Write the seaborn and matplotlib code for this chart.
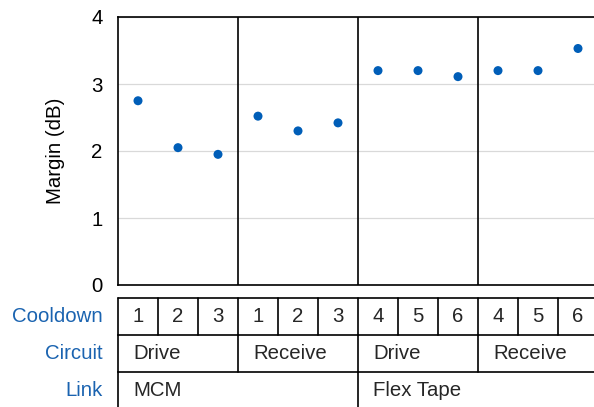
"""
Margin per cooldown, grouped by circuit and link type.

Scatter of margin (dB) with a three-row category table underneath.
"""

import matplotlib

matplotlib.use("Agg")
import matplotlib.pyplot as plt
import numpy as np
import pandas as pd
import seaborn as sns

# -------------------------------
# Data
# -------------------------------
LINKS = ["MCM", "Flex Tape"]
CIRCUITS = ["Drive", "Receive"]
COOLDOWNS = ["1", "2", "3", "1", "2", "3", "4", "5", "6", "4", "5", "6"]
MARGIN_DB = [2.75, 2.05, 1.95, 2.52, 2.30, 2.42, 3.20, 3.20, 3.11, 3.20, 3.20, 3.53]
ROW_NAMES = ["Cooldown", "Circuit", "Link"]

POINT_COLOR = "#005eb8"
LABEL_COLOR = "#1a63b0"
FONT_SIZE = 14.7

# -------------------------------
# Build the frame
# -------------------------------
per_circuit = len(COOLDOWNS) // (len(LINKS) * len(CIRCUITS))
df = pd.DataFrame(
    {
        "pos": np.arange(len(MARGIN_DB)),
        "link": np.repeat(LINKS, per_circuit * len(CIRCUITS)),
        "circuit": np.tile(np.repeat(CIRCUITS, per_circuit), len(LINKS)),
        "cooldown": COOLDOWNS,
        "margin": MARGIN_DB,
    }
)

sns.set_theme(style="white")
plt.rcParams["font.family"] = ["Liberation Sans", "DejaVu Sans"]
plt.rcParams["font.size"] = FONT_SIZE

W, H = 594, 407
fig = plt.figure(figsize=(W / 100, H / 100), dpi=100)

# main axes: left 118px, top 17px, bottom 285px, 40px per column
left = 118 / W
width = 40 * len(df) / W
ax = fig.add_axes([left, (H - 285) / H, width, 268 / H])

sns.scatterplot(
    data=df, x="pos", y="margin", ax=ax, color=POINT_COLOR,
    s=42, edgecolor="none", zorder=3,
)
x_lo, x_hi = -0.5, len(df) - 0.5
ax.set_xlim(x_lo, x_hi)
ax.set_ylim(0, 4)
ax.set_yticks([0, 1, 2, 3, 4])
ax.set_xticks([])
ax.set_xlabel("")
ax.set_ylabel("Margin (dB)", fontsize=FONT_SIZE, color="black", labelpad=19)
ax.tick_params(axis="y", length=0, pad=11, labelsize=FONT_SIZE, colors="black")
ax.yaxis.grid(True, color="#d9d9d9", lw=0.9)
ax.set_axisbelow(True)
for side in ["left", "top", "bottom", "right"]:
    ax.spines[side].set_color("black")
    ax.spines[side].set_linewidth(1.2)

# group dividers in the plot
groups = df.groupby(["link", "circuit"], sort=False)["pos"].max().values
for g in groups[:-1]:
    ax.axvline(g + 0.5, color="black", lw=1.2, zorder=2)

# -------------------------------
# Category table below the plot
# -------------------------------
tab = fig.add_axes([left, (H - 409) / H, width, 111 / H])
tab.set_xlim(x_lo, x_hi)
tab.set_ylim(0, 3)
tab.axis("off")
lw = 1.2
for yy in [1, 2, 3]:
    tab.plot([x_lo, x_hi], [yy, yy], color="black", lw=lw, clip_on=False)

# cooldown row (top)
for x in np.arange(len(df) + 1) - 0.5:
    tab.plot([x, x], [2, 3], color="black", lw=lw, clip_on=False)
for pos, cd in zip(df["pos"], df["cooldown"]):
    tab.text(pos, 2.5, cd, ha="center", va="center", fontsize=FONT_SIZE)

# circuit row (middle)
circ = df.groupby(["link", "circuit"], sort=False)["pos"].agg(["min", "max"]).reset_index()
for _, r in circ.iterrows():
    tab.plot([r["min"] - 0.5] * 2, [1, 2], color="black", lw=lw, clip_on=False)
    tab.text(r["min"] - 0.5 + 0.38, 1.5, r["circuit"], ha="left", va="center",
             fontsize=FONT_SIZE)
tab.plot([x_hi, x_hi], [1, 2], color="black", lw=lw, clip_on=False)

# link row (bottom)
lk = df.groupby("link", sort=False)["pos"].agg(["min", "max"]).reset_index()
for _, r in lk.iterrows():
    tab.plot([r["min"] - 0.5] * 2, [0, 1], color="black", lw=lw, clip_on=False)
    tab.text(r["min"] - 0.5 + 0.38, 0.5, r["link"], ha="left", va="center",
             fontsize=FONT_SIZE)
tab.plot([x_hi, x_hi], [0, 1], color="black", lw=lw, clip_on=False)

# row names to the left
for i, name in enumerate(ROW_NAMES):
    tab.text(x_lo - 0.375, 2.5 - i, name, ha="right", va="center",
             fontsize=FONT_SIZE, color=LABEL_COLOR)

fig.savefig("out.png", dpi=100)
